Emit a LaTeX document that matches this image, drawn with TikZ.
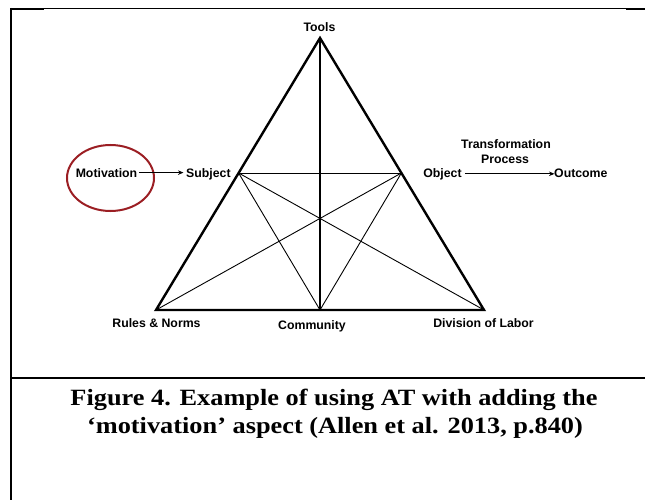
\documentclass[tikz,border=0pt]{standalone}
\usepackage{fontspec}
\setmainfont{Liberation Serif}
\newfontfamily\capfont{Liberation Serif}[FakeStretch=1.13]
\newfontfamily\labfont{Liberation Sans}
\usetikzlibrary{arrows.meta,calc,shapes.geometric}
\definecolor{ringred}{RGB}{155,30,35}
\tikzset{
  lab/.style={font=\labfont\bfseries\fontsize{12.3}{14}\selectfont, inner sep=0pt, anchor=base},
  capline/.style={font=\capfont\bfseries\fontsize{23.3}{28}\selectfont, inner sep=0pt, anchor=base},
  outer/.style={line width=2.4pt, line join=miter},
  mid/.style={line width=1.7pt},
  inner/.style={line width=0.9pt},
  flow/.style={line width=1pt, -{Stealth[length=5.5pt,width=4.5pt]}},
  frame/.style={line width=2pt},
}
\begin{document}
\begin{tikzpicture}[x=1pt,y=-1pt]
  \useasboundingbox (0,0) rectangle (645,500);

  % page frame and caption divider
  \draw[line width=1pt] (11,8.3) -- (645,8.3);
  \draw[frame] (11,9) -- (44,9);
  \draw[frame] (626,9) -- (645,9);
  \draw[frame] (11,8) -- (11,500);
  \draw[frame] (10,378) -- (645,378);

  % triangle corners
  \coordinate (T) at (320,38);
  \coordinate (L) at (156,310);
  \coordinate (R) at (484,310);
  \coordinate (C) at (320,310);
  \coordinate (S) at ($(T)!0.4963!(L)$);
  \coordinate (O) at ($(T)!0.4963!(R)$);

  % inner structure
  \draw[inner] (S) -- (O);
  \draw[inner] (S) -- (C) -- (O);
  \draw[inner] (S) -- (R);
  \draw[inner] (O) -- (L);
  \draw[mid] (T) -- (C);
  \draw[outer] (T) -- (L) -- (R) -- cycle;

  % labels
  \node[lab, anchor=base] (tools) at (319.5,31.5) {Tools};
  \node[lab] (subj) at (186,177) [anchor=base west] {Subject};
  \node[lab] (obj) at (442.5,177) {Object};
  \node[lab] (outc) at (554,177) [anchor=base west] {Outcome};
  \node[lab] (trans) at (506,148.5) {Transformation};
  \node[lab] (proc) at (505,163.5) {Process};
  \node[lab] (rules) at (156.5,327.5) {Rules \& Norms};
  \node[lab] (comm) at (312,329.5) {Community};
  \node[lab] (div) at (483.5,327.5) {Division of Labor};
  \node[lab] (mot) at (106.5,177) {Motivation};

  % motivation ring
  \node[draw=ringred, line width=2pt, ellipse, minimum width=87pt, minimum height=66pt,
        inner sep=0pt] (ring) at (110.5,178) {};

  % flow arrows
  \draw[flow] ($(mot.east)+(1.5,0)$) -- ($(mot.east -| subj.west)+(-2.5,0)$);
  \draw[flow] ($(obj.east)+(3,0)$) -- ($(obj.east -| outc.west)+(0.5,0)$);

  % caption
  \node[capline] (cap1) at (334,405) {Figure 4. Example of using AT with adding the};
  \node[capline] (cap2) at (335,433) {‘motivation’ aspect (Allen et al. 2013, p.840)};
\end{tikzpicture}
\end{document}
